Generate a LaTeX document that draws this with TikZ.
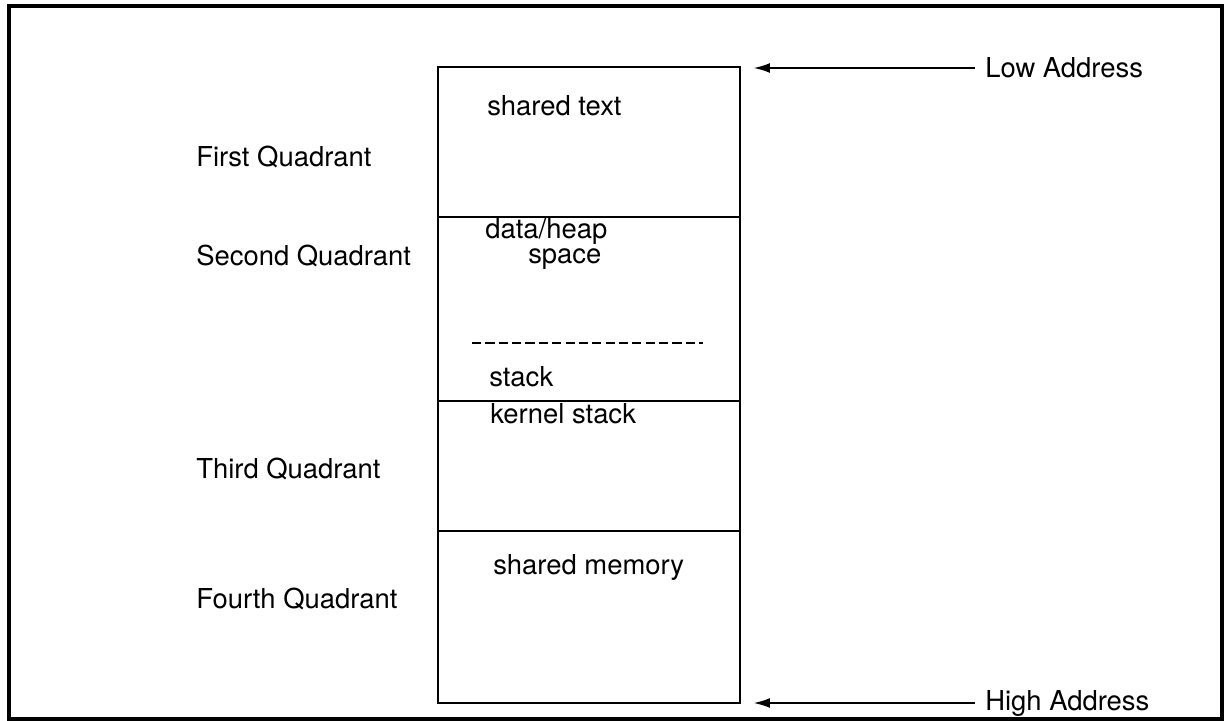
\documentclass[tikz,border=0pt]{standalone}
\usepackage{fontspec}
\setmainfont{TeX Gyre Heros}
\usetikzlibrary{arrows.meta}
\begin{document}
\begin{tikzpicture}[x=0.025cm, y=-0.025cm,
  every node/.style={font=\fontsize{19.5}{22}\selectfont, inner sep=0pt},
  label/.style={anchor=west},
  seg/.style={line width=1.7pt},
  pointer/.style={line width=1.7pt, -{Latex[length=12pt, width=7pt]}}]
  \useasboundingbox (0,0) rectangle (1224,721);
  \draw[line width=2.8pt] (9,6) rectangle (1222,719);
  % memory segments
  \draw[seg] (438,67) rectangle (740,217);
  \draw[seg] (438,217) rectangle (740,401);
  \draw[seg] (438,401) rectangle (740,531);
  \draw[seg] (438,531) rectangle (740,703);
  \draw[line width=1.3pt, dash pattern=on 6.5pt off 3pt] (472,343) -- (703,343);
  % contents
  \node[label] (text)   at (487,106) {shared text};
  \node[label] (data)   at (485,231) {data/heap};
  \node[label] (space)  at (528,259) {space};
  \node[label] (stack)  at (489,377) {stack};
  \node[label] (kstack) at (490,414) {kernel stack};
  \node[label] (shm)    at (493,567) {shared memory};
  % quadrants
  \node[label] (first)  at (196,157) {First Quadrant};
  \node[label] (second) at (196,256) {Second Quadrant};
  \node[label] (third)  at (196,469) {Third Quadrant};
  \node[label] (fourth) at (196,599) {Fourth Quadrant};
  % addresses
  \node[label] (low)  at (985,68)  {Low Address};
  \node[label] (high) at (985,703) {High Address};
  \coordinate (lowtip)  at (753,68);
  \coordinate (hightip) at (753,703);
  \draw[pointer] (low.west) ++(-10,0) -- (lowtip);
  \draw[pointer] (high.west) ++(-10,0) -- (hightip);
\end{tikzpicture}
\end{document}
